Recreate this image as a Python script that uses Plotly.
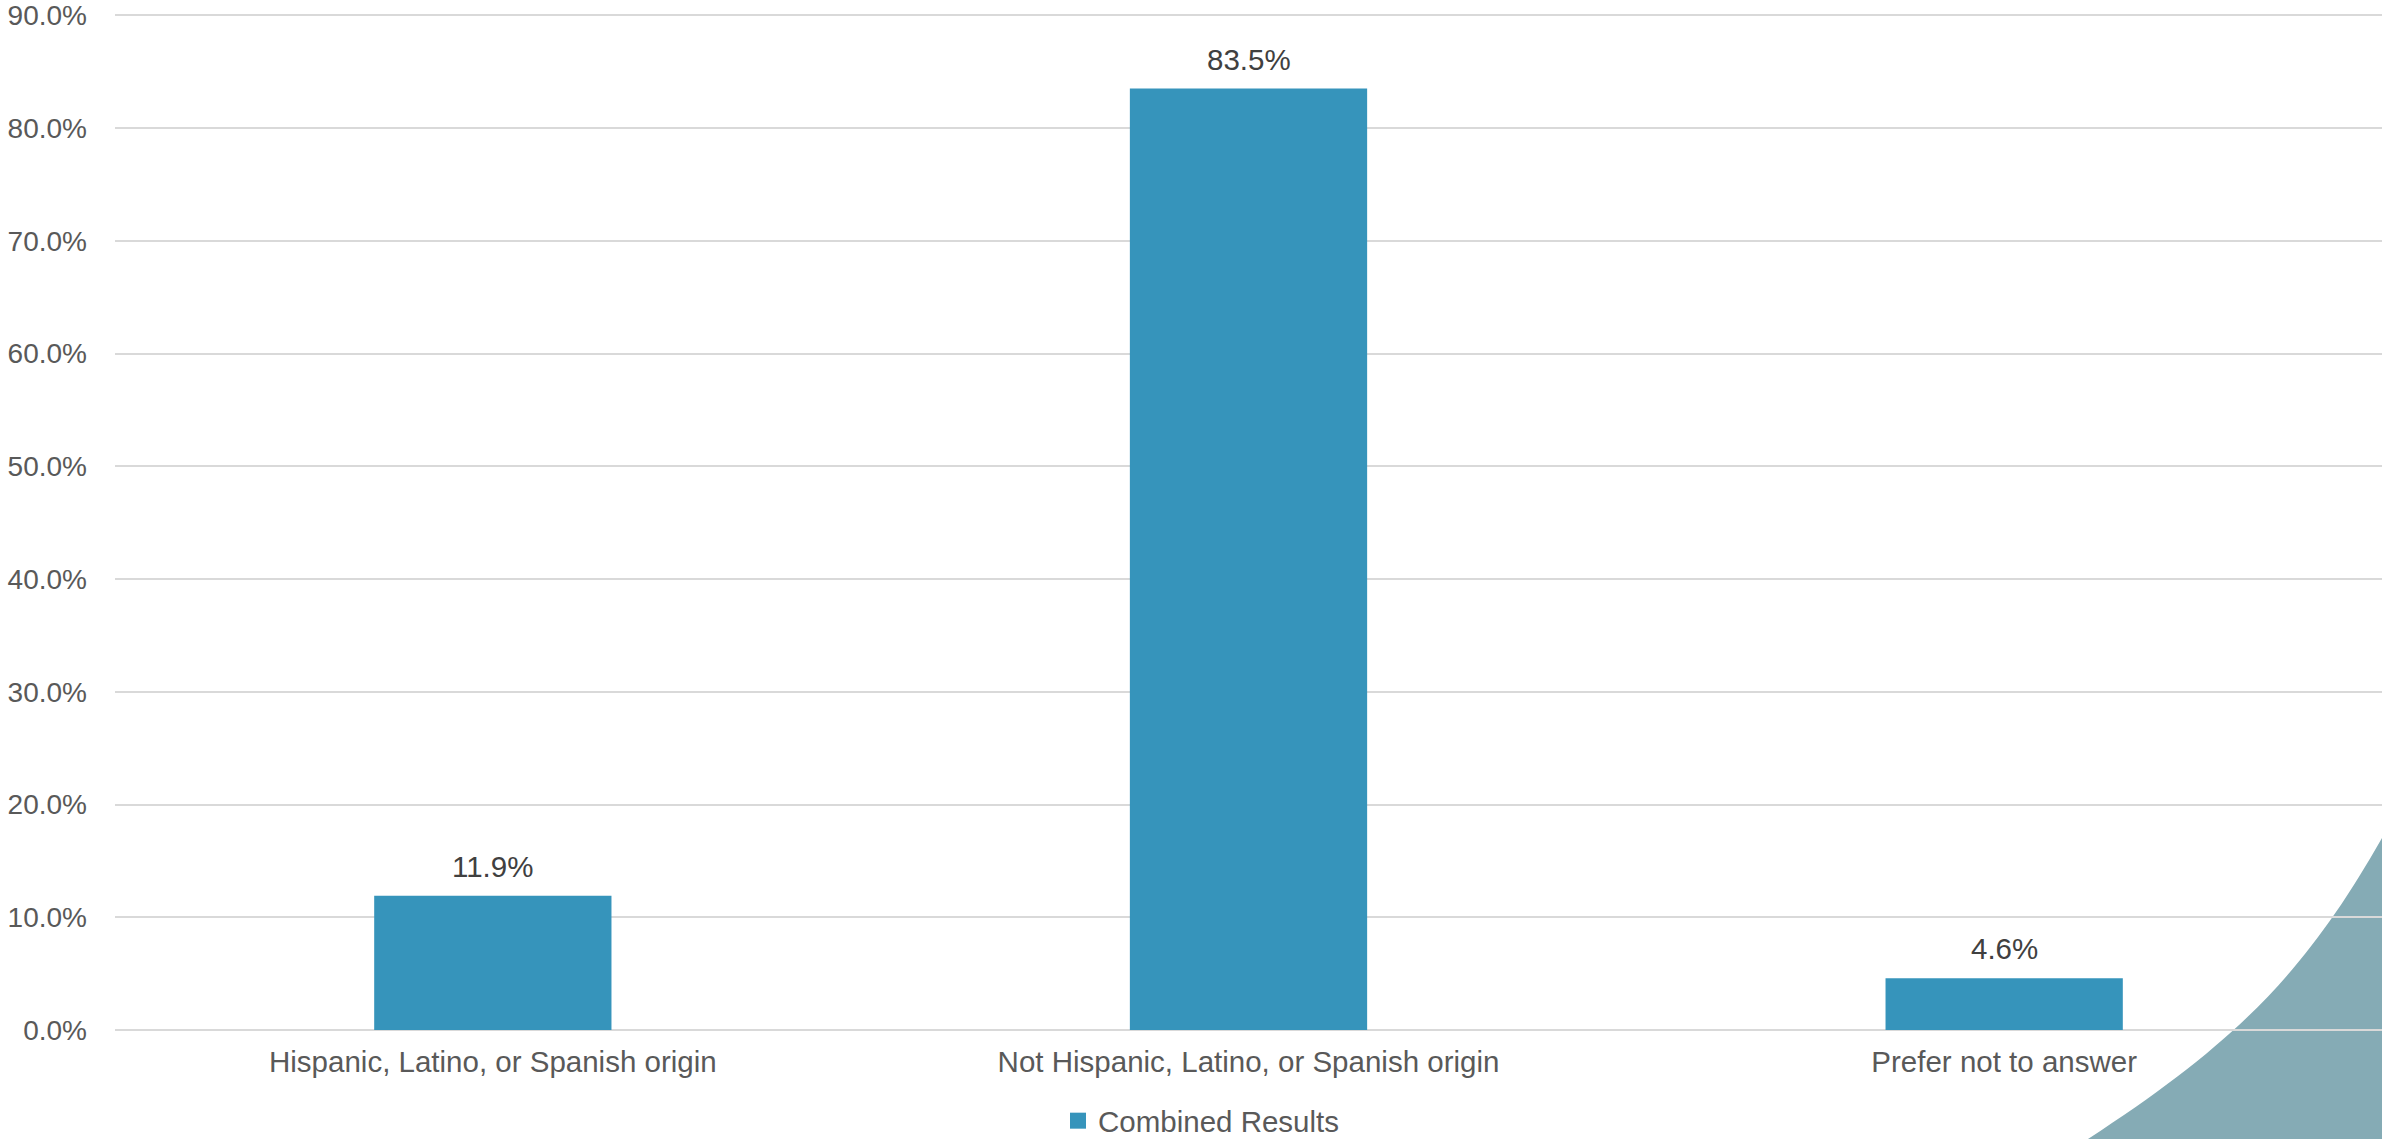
import plotly.graph_objects as go

categories = ["Hispanic, Latino, or Spanish origin",
              "Not Hispanic, Latino, or Spanish origin",
              "Prefer not to answer"]
values = [11.9, 83.5, 4.6]
series_name = "Combined Results"
tick_vals = [0, 10, 20, 30, 40, 50, 60, 70, 80, 90]
tick_text = ["0.0%", "10.0%", "20.0%", "30.0%", "40.0%", "50.0%", "60.0%", "70.0%", "80.0%", "90.0%"]

W, H = 2382, 1139
PLOT_L, PLOT_R, PLOT_T, PLOT_B = 115, 2382, 13, 1030   # pixel coords of plot area
ML, MR, MT, MB = PLOT_L, W - PLOT_R, PLOT_T, H - PLOT_B
YMAX = 90.2
FONT = "Liberation Sans, Arial, sans-serif"
FS = 29.5
FS_Y = 28
BAR_COLOR = "#3694bb"

fig = go.Figure()
fig.add_trace(go.Bar(
    x=categories, y=values, name=series_name,
    marker=dict(color=BAR_COLOR, line=dict(width=0)),
    showlegend=False,
))
# legend entry with a larger square swatch
fig.add_trace(go.Scatter(
    x=[None], y=[None], mode="markers", name=series_name,
    marker=dict(symbol="square", size=16, color=BAR_COLOR),
    showlegend=True, hoverinfo="skip",
))

for c, v in zip(categories, values):
    fig.add_annotation(x=c, y=v, text=f"{v:.1f}%", showarrow=False,
                       yanchor="bottom", yshift=11,
                       font=dict(family=FONT, size=FS, color="#404040"))

# decorative corner shape (pixel -> paper conversion)
pw, ph = PLOT_R - PLOT_L, PLOT_B - PLOT_T
def px(x):
    return (x - PLOT_L) / pw
def py(y):
    return (PLOT_B - y) / ph

p0, p1, p2, p3 = (2088, 1139), (2238, 1041.5), (2307, 970), (2382, 838)
path = (f"M {px(p0[0])} {py(p0[1])} "
        f"C {px(p1[0])} {py(p1[1])}, {px(p2[0])} {py(p2[1])}, {px(p3[0])} {py(p3[1])} "
        f"L {px(2400)} {py(820)} L {px(2400)} {py(1150)} L {px(2080)} {py(1150)} Z")
fig.add_shape(type="path", path=path, xref="paper", yref="paper",
              fillcolor="#85abb5", line=dict(width=0), layer="below")

fig.update_layout(
    width=W, height=H,
    margin=dict(l=ML, r=MR, t=MT, b=MB, pad=0, autoexpand=False),
    paper_bgcolor="white", plot_bgcolor="rgba(0,0,0,0)",
    bargap=0.686,
    font=dict(family=FONT, size=FS, color="#595959"),
    showlegend=True,
    legend=dict(orientation="h", xref="container", yref="container",
                x=1058 / W, xanchor="left", y=1 - 1121 / H, yanchor="middle",
                itemsizing="trace",
                font=dict(family=FONT, size=FS, color="#595959"),
                bgcolor="rgba(0,0,0,0)"),
    xaxis=dict(showgrid=False, showline=False, ticks="", zeroline=False,
               automargin=False, ticklabelstandoff=11,
               tickfont=dict(family=FONT, size=FS, color="#595959")),
    yaxis=dict(range=[0, YMAX], tickvals=tick_vals, ticktext=tick_text,
               showgrid=True, gridcolor="#d9d9d9", gridwidth=2,
               zeroline=True, zerolinecolor="#d9d9d9", zerolinewidth=2,
               showline=False, ticks="", ticklabelstandoff=27,
               automargin=False, ticklabeloverflow="allow",
               tickfont=dict(family=FONT, size=FS_Y, color="#595959")),
)

# remove the browser's default 8px body margin so the figure fills the window
fig.write_html("out.html", config={"displayModeBar": False},
               post_script="document.body.style.margin='0';")
